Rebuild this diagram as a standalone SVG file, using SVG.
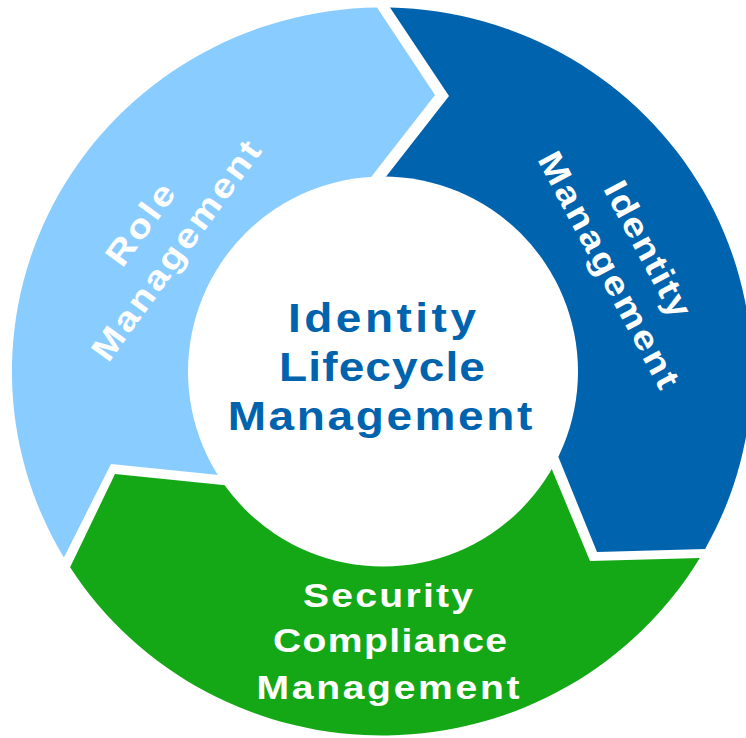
<svg xmlns="http://www.w3.org/2000/svg" width="746" height="738" viewBox="0 0 746 738">
<style>
.t{font-family:"Liberation Sans",Arial,sans-serif;font-weight:bold;text-anchor:middle}
.w{fill:#FFFFFF;font-size:34px}
.c{fill:#0063AE;font-size:40px}
</style>
<rect width="746" height="738" fill="#FFFFFF"/>
<g id="connectors"></g>
<g id="role-management">
<path d="M 63.9,557.5 A 370 364 0 0 1 377,7.5 L 435,95 L 354,199 L 383,371.5 L 233.5,476.5 L 111,464 Z" fill="#89CCFF"/>
</g>
<g id="identity-management">
<path d="M 390,7.6 A 370 364 0 0 1 705.1,548.9 L 597,552 L 551.5,440 L 383,371.5 L 367,201 L 449,96 Z" fill="#0063AE"/>
</g>
<g id="security-compliance-management">
<path d="M 699.8,557.9 A 370 364 0 0 1 70.1,567.3 L 115,474 L 242.4,487 L 383,371.5 L 541.9,445.3 L 590,561 Z" fill="#14A816"/>
</g>
<g id="identity-lifecycle-management">
<circle cx="383" cy="371.5" r="195" fill="#FFFFFF"/>
<text class="t c" transform="translate(382,332) scale(1.15,1)" textLength="163.5" lengthAdjust="spacing">Identity</text>
<text class="t c" transform="translate(382,381) scale(1.15,1)" textLength="179" lengthAdjust="spacing">Lifecycle</text>
<text class="t c" transform="translate(380,430) scale(1.15,1)" textLength="265" lengthAdjust="spacing">Management</text>
</g>
<g id="labels">
<g transform="translate(159,238) rotate(-54)">
<text class="t w" transform="translate(0,-11.6) scale(1.15,1)" textLength="81" lengthAdjust="spacing">Role</text>
<text class="t w" transform="translate(0,32.6) scale(1.15,1)" textLength="228.5" lengthAdjust="spacing">Management</text>
</g>
<g transform="translate(627.5,260) rotate(62)">
<text class="t w" transform="translate(0,-11.6) scale(1.15,1)" textLength="130" lengthAdjust="spacing">Identity</text>
<text class="t w" transform="translate(0,32.6) scale(1.15,1)" textLength="228.5" lengthAdjust="spacing">Management</text>
</g>
<text class="t w" transform="translate(388,607) scale(1.15,1)" textLength="148" lengthAdjust="spacing">Security</text>
<text class="t w" transform="translate(390,652) scale(1.15,1)" textLength="203.5" lengthAdjust="spacing">Compliance</text>
<text class="t w" transform="translate(388,699) scale(1.15,1)" textLength="228.7" lengthAdjust="spacing">Management</text>
</g>
</svg>
